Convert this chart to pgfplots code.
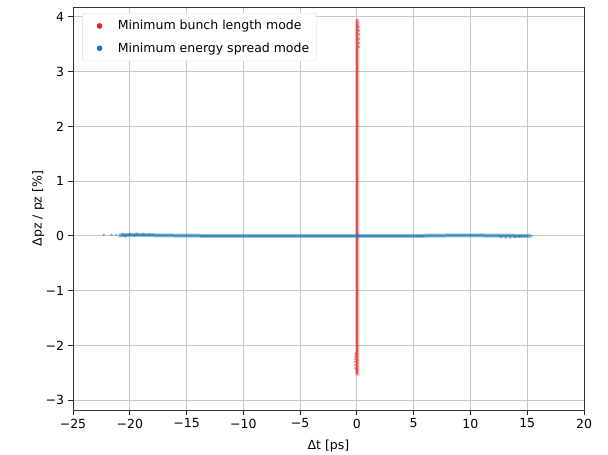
\documentclass[border=0pt]{standalone}
\usepackage{pgfplots}
\pgfplotsset{compat=1.18}
\usepackage{fontspec}
\setmainfont{DejaVu Sans}
\definecolor{tabred}{HTML}{D62728}
\definecolor{tabblue}{HTML}{1F77B4}
\definecolor{gridgray}{HTML}{C8C8C8}
\begin{document}
\fontsize{12.5}{15}\selectfont
\begin{tikzpicture}
\begin{axis}[
  scale only axis,
  width=511pt, height=403pt,
  xmin=-25, xmax=20, ymin=-3.18, ymax=4.18,
  xtick={-25,-20,...,20},
  xticklabels={−25,−20,−15,−10,−5,0,5,10,15,20},
  ytick={-3,-2,...,4},
  yticklabels={−3,−2,−1,0,1,2,3,4},
  tick align=outside, tick pos=left,
  major tick length=4.5pt,
  every tick/.style={black!85, line width=0.8pt},
  axis line style={black!80, line width=0.8pt},
  grid=major,
  major grid style={gridgray, line width=0.9pt},
  xlabel={Δt [ps]}, ylabel={Δpz / pz [\%]},
  label style={font=\fontsize{12.5}{15}\selectfont},
  tick label style={font=\fontsize{12.5}{15}\selectfont},
  xlabel style={yshift=-3pt},
  ylabel style={yshift=-7pt},
  legend style={at={(0.018,0.985)}, anchor=north west, draw=black!15, rounded corners=2.5pt,
    font=\fontsize{12.5}{15}\selectfont, row sep=7pt, inner xsep=5pt, inner ysep=5pt},
  legend cell align=left,
]
% red: bumps and scattered particles
\addplot[only marks, mark=*, mark size=1.4pt, color=tabred, opacity=0.45, draw opacity=0,
  legend image code/.code={\path (0pt,0pt) (28pt,0pt); \fill[tabred, opacity=1] (12pt,0pt) circle (2.6pt);}] coordinates {
(-0.14,-2.42)(-0.18,-2.36)(-0.17,-2.30)(-0.18,-2.25)(-0.15,-2.20)(-0.1,-2.15)(0.0,-2.45)(0.02,-2.5)
(0.16,3.45)(0.19,3.52)(0.2,3.6)(0.2,3.68)(0.18,3.75)(0.14,3.82)(0.03,3.9)(0.02,3.95)
};
\addlegendentry{Minimum bunch length mode}
% red: dense core of the distribution
\addplot[tabred, line width=4pt, opacity=0.4, forget plot] coordinates {
(0.04,-2.55)(0.05,-2.0)(0.05,-1.0)(0.05,0.0)(0.05,1.0)(0.05,2.0)(0.05,3.0)(0.05,3.95)
};
\addplot[tabred, line width=1.8pt, opacity=0.6, forget plot] coordinates {
(0.0,-2.5)(0.01,-2.0)(0.01,-1.0)(0.01,0.0)(0.01,1.0)(0.01,2.0)(0.01,3.0)(0.01,3.88)
};
% blue: scattered particles
\addplot[only marks, mark=*, mark size=1.4pt, color=tabblue, opacity=0.5, draw opacity=0,
  legend image code/.code={\path (0pt,0pt) (28pt,0pt); \fill[tabblue, opacity=1] (12pt,0pt) circle (2.6pt);}] coordinates {
(-22.3,0.02)(-21.6,0.02)(-21.2,0.015)
(-20.6,0.03)(-20.0,0.035)(-19.4,0.04)(-18.8,0.035)(-18.3,0.025)
(-20.4,-0.01)(-19.6,-0.005)
(12.7,-0.025)(13.1,-0.03)(13.5,-0.03)(13.9,-0.025)(14.3,-0.015)(15.2,0.0)(15.4,0.0)
};
\addlegendentry{Minimum energy spread mode}
% blue: dense core
\addplot[tabblue, line width=4pt, opacity=0.45, forget plot] coordinates {
(-21.0,0.01)(-19.5,0.02)(-18.0,0.012)(-15.0,0.004)(-12.0,0.0)(5.0,0.0)(9.0,0.01)(12.0,0.006)(15.3,0.0)
};
\addplot[tabblue, line width=2pt, opacity=0.7, forget plot] coordinates {
(-20.8,0.01)(-19.5,0.02)(-18.0,0.012)(-15.0,0.004)(-12.0,0.0)(5.0,0.0)(9.0,0.01)(12.0,0.006)(15.1,0.0)
};
\end{axis}
\pgfresetboundingbox
\path ([shift={(-73pt,-44pt)}]current axis.south west) rectangle ([shift={(24pt,7pt)}]current axis.north east);
\end{tikzpicture}
\end{document}
